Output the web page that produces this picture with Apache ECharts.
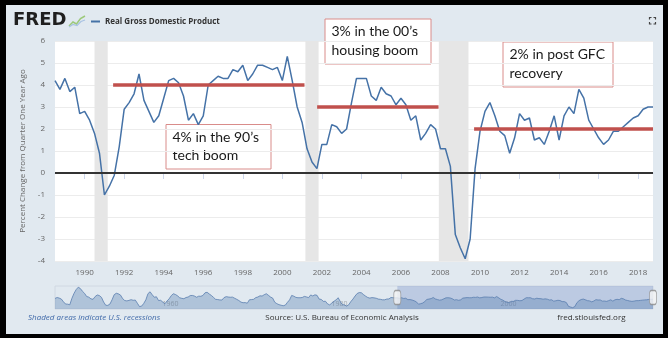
<!DOCTYPE html>
<html>
<head>
<meta charset="utf-8">
<script src="https://cdn.jsdelivr.net/npm/echarts@6/dist/echarts.min.js"></script>
<style>
  html, body { margin: 0; padding: 0; background: #e1e9f0; }
  #chart { width: 668px; height: 338px; }
</style>
</head>
<body>
<div id="chart"></div>
<script>
// Real GDP, percent change from quarter one year ago (quarterly, 1988 Q3 - 2018 Q4)
const firstQuarter = 1988.5;
const quarterStep = 0.25;
const gdpChange = [
  4.2, 3.8, 4.3, 3.7, 3.9, 2.7, 2.8, 2.4, 1.8, 0.9,
  -1.0, -0.6, -0.1, 1.2, 2.9, 3.2, 3.6, 4.5, 3.3, 2.8,
  2.3, 2.6, 3.4, 4.2, 4.3, 4.1, 3.5, 2.4, 2.7, 2.2,
  2.6, 4.0, 4.2, 4.4, 4.3, 4.3, 4.7, 4.6, 4.9, 4.2,
  4.5, 4.9, 4.9, 4.8, 4.7, 4.8, 4.2, 5.3, 4.2, 3.0,
  2.3, 1.1, 0.5, 0.2, 1.3, 1.3, 2.2, 2.1, 1.8, 2.0,
  3.2, 4.3, 4.3, 4.3, 3.5, 3.3, 3.9, 3.6, 3.5, 3.1,
  3.4, 3.1, 2.4, 2.6, 1.5, 1.8, 2.2, 2.0, 1.1, 1.1,
  0.3, -2.8, -3.4, -3.9, -3.0, 0.2, 1.9, 2.8, 3.2, 2.6,
  1.9, 1.7, 0.9, 1.6, 2.7, 2.4, 2.5, 1.5, 1.6, 1.3,
  1.9, 2.6, 1.5, 2.6, 3.0, 2.7, 3.8, 3.4, 2.4, 2.0,
  1.6, 1.3, 1.5, 1.9, 1.9, 2.1, 2.3, 2.5, 2.6, 2.9,
  3.0, 3.0
];

// Earlier history shown only in the range navigator (1948 Q1 - 1988 Q2)
const historyStart = 1948;
const historyChange = [
  3.7, 4.5, 4.0, 3.2,   1.0, -0.9, -1.0, -1.5,   3.8, 7.9, 11.0, 13.0,
  11.9, 9.6, 7.9, 5.3,   4.8, 3.4, 3.0, 5.3,   6.6, 6.1, 4.6, 0.8,
  -1.9, -2.0, -0.9, 2.6,   6.8, 8.0, 7.5, 6.5,   3.6, 2.0, 1.7, 2.1,
  2.7, 2.2, 2.4, -0.3,   -3.0, -2.6, -0.4, 2.6,   7.7, 9.2, 6.8, 4.7,
  5.1, 2.0, 2.2, 0.7,   -0.7, 1.6, 3.4, 6.0,   7.6, 7.0, 5.9, 4.3,
  3.8, 3.5, 4.5, 4.9,   6.1, 6.2, 5.7, 4.7,   5.6, 5.5, 6.2, 8.4,
  8.8, 7.4, 6.2, 4.6,   3.0, 2.8, 2.5, 2.4,   4.4, 5.2, 4.9, 4.7,
  4.8, 3.9, 3.0, 2.0,   0.7, 0.2, 0.3, -0.2,   2.6, 2.8, 3.0, 4.4,
  4.9, 5.9, 5.7, 6.8,   7.6, 6.3, 4.9, 4.0,   0.6, -0.6, -1.4, -1.9,
  -2.3, -1.8, 0.5, 2.5,   6.2, 5.6, 4.6, 4.3,   4.3, 4.5, 5.4, 5.0,
  4.4, 6.6, 5.8, 6.7,   6.3, 3.2, 2.9, 1.3,   1.4, -0.8, -1.6, -0.1,
  1.3, 2.5, 4.3, 1.2,   -1.4, -1.6, -2.6, -1.5,   1.1, 3.2, 5.7, 7.8,
  8.6, 8.4, 6.9, 5.6,   4.5, 4.0, 4.4, 4.2,   3.9, 3.2, 3.0, 2.6,
  2.6, 3.2, 3.3, 4.5,   4.3, 4.2
];

// NBER recessions (start, end) in decimal years
const recessions = [[1990.5, 1991.1667], [2001.1667, 2001.8333], [2007.9167, 2009.4167]];

// Average growth in each expansion
const eraAverages = [
  { from: 1991.44, to: 2001.12, value: 4 },
  { from: 2001.76, to: 2007.90, value: 3 },
  { from: 2009.70, to: 2018.75, value: 2 }
];

const yearTicks = [1990, 1992, 1994, 1996, 1998, 2000, 2002, 2004, 2006, 2008, 2010, 2012, 2014, 2016, 2018];
const navigatorTicks = [1960, 1980, 2000];
const yRange = [-4, 6];
const navRange = [-5, 14];

const mainPoints = gdpChange.map((v, i) => [firstQuarter + i * quarterStep, v]);
const historyPoints = historyChange.map((v, i) => [historyStart + i * quarterStep, v]);
const viewRange = [firstQuarter, firstQuarter + (gdpChange.length - 1) * quarterStep];
const navMid = (navRange[0] + navRange[1]) / 2;

const red = '#c0504d';
const font = '"Open Sans", "Liberation Sans", sans-serif';

const chart = echarts.init(document.getElementById('chart'), null, { renderer: 'canvas' });

function noteBox(x, y, w, h, text) {
  return {
    type: 'group',
    z: 100,
    children: [
      { type: 'rect', shape: { x: x, y: y, width: w, height: h },
        style: { fill: '#ffffff', stroke: '#d98c8a', lineWidth: 1 } },
      { type: 'text', x: x + 6.5, y: y + 3.5,
        style: { text: text, fill: '#1a1a1a', font: '14px Lato, "Open Sans", sans-serif',
                 lineHeight: 18.5, verticalAlign: 'top', align: 'left' } }
    ]
  };
}

chart.setOption({
  animation: false,
  backgroundColor: '#e1e9f0',
  grid: [
    { left: 55, right: 15, top: 41, height: 220, show: true, backgroundColor: '#ffffff', borderWidth: 0 },
    { left: 55, right: 15, top: 286, height: 23, show: true, backgroundColor: 'transparent',
      borderColor: '#d0d8e2', borderWidth: 1 }
  ],
  xAxis: [
    {
      type: 'value', gridIndex: 0, min: viewRange[0], max: viewRange[1],
      axisLine: { show: true, lineStyle: { color: '#ccd6eb' } },
      axisTick: { show: true, customValues: yearTicks, length: 6, lineStyle: { color: '#ccd6eb' } },
      axisLabel: { customValues: yearTicks, formatter: v => String(v), color: '#666',
                   fontSize: 8, fontFamily: font, margin: 8 },
      splitLine: { show: false }
    },
    {
      type: 'value', gridIndex: 1, min: historyStart, max: viewRange[1],
      axisLine: { show: false },
      axisTick: { show: false },
      axisLabel: { customValues: navigatorTicks, formatter: v => String(v), inside: true,
                   align: 'left', padding: [0, 0, 0, 6], margin: 2,
                   color: 'rgba(90,90,90,0.45)', fontSize: 7, fontFamily: font },
      splitLine: { show: false }
    }
  ],
  yAxis: [
    {
      type: 'value', gridIndex: 0, min: yRange[0], max: yRange[1], interval: 1,
      name: 'Percent Change from Quarter One Year Ago',
      nameLocation: 'middle', nameGap: 26,
      nameTextStyle: { color: '#666', fontSize: 8, fontFamily: font },
      axisLine: { show: false },
      axisTick: { show: false },
      axisLabel: { color: '#666', fontSize: 8, fontFamily: font, margin: 10 },
      splitLine: { lineStyle: { color: '#ececec', width: 1 } }
    },
    {
      type: 'value', gridIndex: 1, min: navRange[0], max: navRange[1],
      show: false, splitLine: { show: false }
    }
  ],
  series: [
    {
      name: 'Real Gross Domestic Product',
      type: 'line', xAxisIndex: 0, yAxisIndex: 0,
      data: mainPoints, showSymbol: false, symbol: 'none',
      lineStyle: { color: '#4572a7', width: 1.5 },
      markArea: {
        silent: true,
        itemStyle: { color: '#e6e6e6' },
        data: recessions.map(r => [{ xAxis: r[0] }, { xAxis: r[1] }])
      },
      markLine: {
        silent: true, symbol: ['none', 'none'], label: { show: false },
        data: [
          { yAxis: 0, lineStyle: { color: '#333333', width: 2, type: 'solid' } },
          ...eraAverages.map(e => [
            { coord: [e.from, e.value], lineStyle: { color: red, width: 3.5, type: 'solid' } },
            { coord: [e.to, e.value] }
          ])
        ]
      }
    },
    {
      type: 'line', xAxisIndex: 1, yAxisIndex: 1,
      data: historyPoints.concat(mainPoints), showSymbol: false, symbol: 'none',
      lineStyle: { color: '#5b7fb0', width: 0.8 },
      areaStyle: { color: 'rgba(69,114,167,0.45)', origin: 'start' },
      markArea: {
        silent: true,
        itemStyle: { color: 'rgba(102,133,194,0.3)' },
        data: [[{ xAxis: viewRange[0] }, { xAxis: viewRange[1] }]]
      }
    },
    {
      type: 'scatter', xAxisIndex: 1, yAxisIndex: 1, silent: true, clip: false,
      data: [[viewRange[0], navMid], [viewRange[1], navMid]],
      symbol: 'roundRect', symbolSize: [7, 14],
      itemStyle: { color: '#f4f4f4', borderColor: '#8a8a8a', borderWidth: 1 },
      z: 5
    }
  ],
  graphic: [
    // header: logo, icon and legend
    { type: 'text', x: 13, y: 20.5, style: { text: 'FRED', fill: '#1f1f1f',
      font: 'bold 18px "DejaVu Sans", sans-serif', verticalAlign: 'middle' } },
    { type: 'polyline', shape: { points: [[69, 26], [73, 22], [76.5, 24], [80.5, 18.5], [85, 16]] },
      style: { stroke: '#9cc97a', lineWidth: 1.5, fill: null } },
    { type: 'polyline', shape: { points: [[69, 27], [73, 24.5], [77, 25.5], [81, 21.5], [85, 20]] },
      style: { stroke: '#a9c3e3', lineWidth: 1.2, fill: null } },
    { type: 'line', shape: { x1: 91, y1: 21.5, x2: 100, y2: 21.5 },
      style: { stroke: '#4572a7', lineWidth: 2 } },
    { type: 'text', x: 105, y: 21.5, style: { text: 'Real Gross Domestic Product', fill: '#333',
      font: 'bold 8px ' + font, verticalAlign: 'middle' } },
    // full-screen icon
    { type: 'polyline', shape: { points: [[649.5, 19.5], [649.5, 17.5], [651.5, 17.5]] }, style: { stroke: '#444', lineWidth: 1.2, fill: null } },
    { type: 'polyline', shape: { points: [[653.5, 17.5], [655.5, 17.5], [655.5, 19.5]] }, style: { stroke: '#444', lineWidth: 1.2, fill: null } },
    { type: 'polyline', shape: { points: [[649.5, 22], [649.5, 24], [651.5, 24]] }, style: { stroke: '#444', lineWidth: 1.2, fill: null } },
    { type: 'polyline', shape: { points: [[653.5, 24], [655.5, 24], [655.5, 22]] }, style: { stroke: '#444', lineWidth: 1.2, fill: null } },
    // annotations
    noteBox(166, 124.5, 105, 44.5, '4% in the 90’s\ntech boom'),
    noteBox(325, 19, 106, 45, '3% in the 00’s\nhousing boom'),
    noteBox(503, 42, 110, 45, '2% in post GFC\nrecovery'),
    // footer
    { type: 'text', x: 28, y: 317.5, style: { text: 'Shaded areas indicate U.S. recessions', fill: '#3e68a8',
      font: 'italic 8px ' + font, verticalAlign: 'middle', align: 'left' } },
    { type: 'text', x: 342, y: 317.5, style: { text: 'Source: U.S. Bureau of Economic Analysis', fill: '#333',
      font: '8px ' + font, verticalAlign: 'middle', align: 'center' } },
    { type: 'text', x: 625.5, y: 317.5, style: { text: 'fred.stlouisfed.org', fill: '#333',
      font: '8px ' + font, verticalAlign: 'middle', align: 'right' } },
    // frame
    { type: 'rect', z: 200, shape: { x: 0, y: 0, width: 6, height: 338 }, style: { fill: '#000' } },
    { type: 'rect', z: 200, shape: { x: 0, y: 0, width: 668, height: 5 }, style: { fill: '#000' } },
    { type: 'rect', z: 200, shape: { x: 663, y: 0, width: 5, height: 338 }, style: { fill: '#000' } },
    { type: 'rect', z: 200, shape: { x: 0, y: 334, width: 668, height: 4 }, style: { fill: '#000' } }
  ]
});
</script>
</body>
</html>
